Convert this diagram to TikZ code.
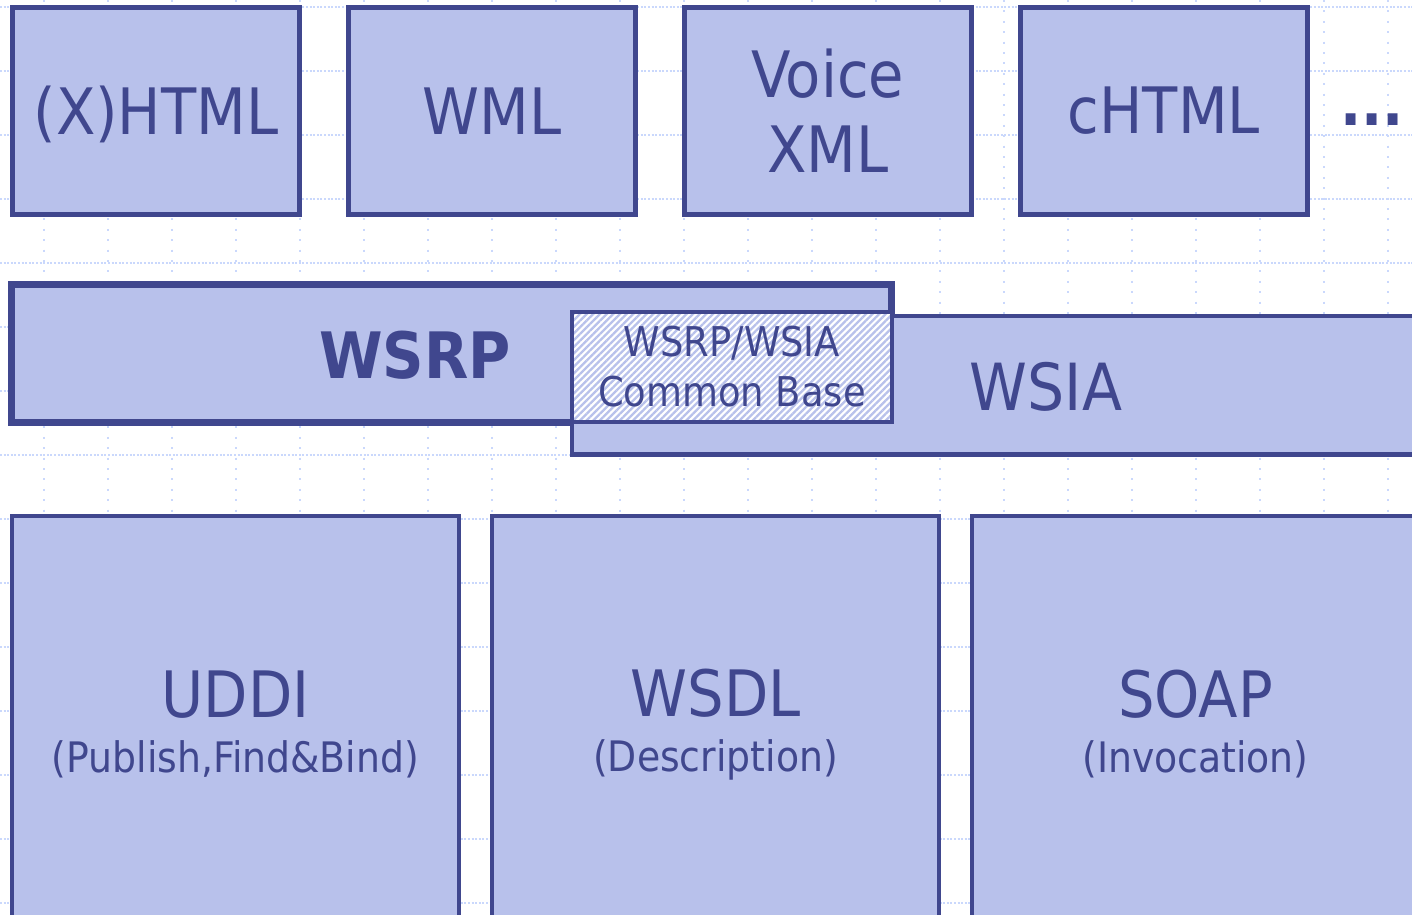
\documentclass[tikz,border=0pt]{standalone}
\usepackage{fontspec}
\setmainfont{DejaVu Sans Condensed}
\usetikzlibrary{patterns.meta}
\definecolor{ink}{RGB}{64,71,142}
\definecolor{boxfill}{RGB}{184,193,235}
\definecolor{gridc}{RGB}{202,216,252}
\tikzset{
  gridh/.style={gridc, line width=2pt, dash pattern=on 2pt off 1.6pt},
  gridv/.style={gridc, line width=2pt, dash pattern=on 2pt off 8.4pt},
  topbox/.style={draw=ink, fill=boxfill, line width=4.5pt, rectangle, inner sep=0pt,
    minimum width=287.2pt, minimum height=207.2pt, text=ink, align=center,
    font=\fontsize{64}{75}\selectfont},
  botbox/.style={draw=ink, fill=boxfill, line width=4.3pt, rectangle, inner sep=0pt,
    minimum width=446.7pt, minimum height=417.7pt, text=ink, align=center,
    font=\fontsize{42}{55}\selectfont},
  midbox/.style={draw=ink, fill=boxfill, rectangle, inner sep=0pt},
  hatchbox/.style={draw=ink, line width=4.3pt, rectangle, inner sep=0pt,
    preaction={fill=white},
    pattern={Lines[angle=45,distance=4.7pt,line width=2.3pt]}, pattern color=boxfill,
    text=ink, align=center, font=\fontsize{41}{50}\selectfont},
  lbl/.style={text=ink, inner sep=0pt, font=\fontsize{64}{75}\selectfont},
}
\begin{document}
\begin{tikzpicture}[x=1pt,y=-1pt]
\useasboundingbox (0,0) rectangle (1412,914);
\clip (0,0) rectangle (1412,914);
\fill[white] (0,0) rectangle (1412,914);
% grid
\foreach \k in {0,...,14} \draw[gridh] (0,{6.7+64*\k}) -- (1412,{6.7+64*\k});
\foreach \k in {0,...,21} \draw[gridv] ({43.7+64*\k},0) -- ({43.7+64*\k},914);
% top row
\node[topbox, text height=47pt, text depth=0pt] (xhtml) at (155.85,110.85) {(X)HTML};
\node[topbox] (wml) at (491.85,110.85) {WML};
\node[topbox] (voice) at (827.85,110.85) {Voice\\XML};
\node[topbox] (chtml) at (1163.85,110.85) {cHTML};
\node[lbl, font=\fontsize{62}{75}\selectfont\bfseries, anchor=base] (dots) at (1372,125) {...};
% middle row
\node[midbox, line width=7pt, minimum width=880pt, minimum height=138pt] (wsrp) at (451.5,353.5) {};
\node[lbl, font=\fontsize{64}{75}\selectfont\bfseries] (wsrpt) at (415,355.5) {WSRP};
\node[midbox, line width=4.3pt, minimum width=858pt, minimum height=138.2pt] (wsia) at (1001,385.4) {};
\node[lbl, font=\fontsize{65}{75}\selectfont] (wsiat) at (1046,387) {WSIA};
\node[hatchbox, minimum width=320pt, minimum height=110pt] (common) at (732,367) {WSRP/WSIA\\Common Base};
% bottom row
\node[botbox] (uddi) at (235.5,724.5) {{\fontsize{64}{55}\selectfont UDDI}\\(Publish,Find\&Bind)};
\node[botbox] (wsdl) at (715.5,724.5) {{\fontsize{64}{55}\selectfont WSDL}\\(Description)};
\node[botbox] (soap) at (1195.5,724.5) {{\fontsize{64}{55}\selectfont SOAP}\\(Invocation)};
\end{tikzpicture}
\end{document}
